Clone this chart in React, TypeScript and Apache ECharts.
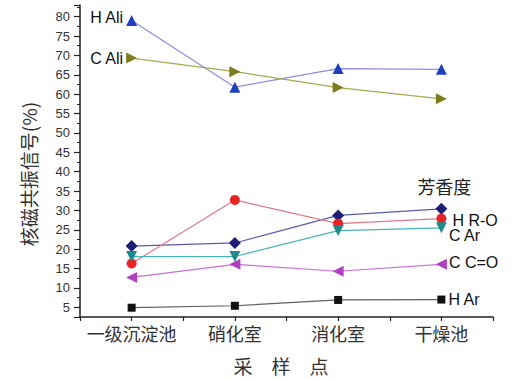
import React, { useEffect, useRef } from "react";
import * as echarts from "echarts";

const categories = ["一级沉淀池", "硝化室", "消化室", "干燥池"];
const hAli = [79, 61.8, 66.6, 66.4];
const cAli = [69.3, 65.8, 61.7, 58.8];
const aromaticity = [20.8, 21.6, 28.7, 30.4];
const hRO = [16.3, 32.7, 26.6, 27.9];
const cAr = [18.1, 18.1, 24.8, 25.5];
const cCO = [12.7, 16.1, 14.3, 16.1];
const hAr = [4.9, 5.4, 6.9, 7.0];

const seriesNames = ["H Ali", "C Ali", "芳香度", "H R-O", "C Ar", "C C=O", "H Ar"];
const yTitle = "核磁共振信号(%)";
const xTitle = "采　样　点";

const labelFont = { fontFamily: "Liberation Sans, Arial, sans-serif", fontSize: 16, color: "#111" };

function withLabel(values: number[], idx: number, label: any) {
  return values.map((v, i) =>
    i === idx ? { value: v, label: { show: true, ...labelFont, ...label } } : v
  );
}

export default function App() {
  const ref = useRef<HTMLDivElement>(null);
  useEffect(() => {
    if (!ref.current) return;
    const chart = echarts.init(ref.current, undefined, { renderer: "svg" });
    const mk = (name: string, data: any[], lineColor: string, markColor: string, symbol: string, size: number, rotate = 0) => ({
      name,
      type: "line",
      data,
      symbol,
      symbolSize: size,
      symbolRotate: rotate,
      lineStyle: { color: lineColor, width: 1.2 },
      itemStyle: { color: markColor },
      label: { show: false },
    });
    chart.setOption({
      animation: false,
      backgroundColor: "#fff",
      grid: { left: 80, right: 19, top: 5, bottom: 62 },
      xAxis: [
        {
          type: "category",
          data: categories,
          boundaryGap: true,
          axisLine: { lineStyle: { color: "#222", width: 1.5 } },
          axisTick: { show: true, interval: 0, length: 4, lineStyle: { color: "#222", width: 1.2 } },
          axisLabel: {
            interval: 0,
            hideOverlap: false,
            fontFamily: "Noto Sans CJK SC",
            fontSize: 18,
            color: "#333",
            margin: 7,
          },
        },
        {
          type: "category",
          data: categories,
          position: "bottom",
          boundaryGap: true,
          axisLine: { show: false },
          axisTick: { show: true, interval: 0, alignWithLabel: true, length: 4, lineStyle: { color: "#222", width: 1.2 } },
          axisLabel: { show: false },
        },
      ],
      yAxis: {
        type: "value",
        min: 2.5,
        max: 83,
        splitNumber: 16,
        splitLine: { show: false },
        axisLine: { show: true, lineStyle: { color: "#222", width: 1.5 } },
        axisTick: { show: true, length: 6, lineStyle: { color: "#222", width: 1.2 } },
        minorTick: { show: true, splitNumber: 2, length: 3, lineStyle: { color: "#222", width: 1 } },
        axisLabel: {
          fontFamily: "Liberation Sans, Arial, sans-serif",
          fontSize: 13,
          color: "#333",
          margin: 10,
          formatter: (v: number) => (v % 5 === 0 && v >= 5 && v <= 80 ? String(v) : ""),
        },
      },
      graphic: [
        {
          type: "text",
          x: 28,
          y: 174,
          rotation: Math.PI / 2,
          style: {
            text: yTitle,
            fontFamily: "Noto Sans CJK SC",
            fontSize: 19,
            fill: "#333",
            align: "center",
            verticalAlign: "middle",
          },
        },
        {
          type: "text",
          x: 281,
          y: 365,
          style: {
            text: xTitle,
            fontFamily: "Noto Sans CJK SC",
            fontSize: 19,
            fill: "#333",
            align: "center",
            verticalAlign: "middle",
          },
        },
      ],
      series: [
        mk(seriesNames[0], withLabel(hAli, 0, { formatter: seriesNames[0], position: "left", distance: 3, offset: [0, -3] }), "#8c8ce0", "#1f3fbf", "triangle", 11),
        mk(seriesNames[1], withLabel(cAli, 0, { formatter: seriesNames[1], position: "left", distance: 3 }), "#a8a850", "#7d7d1e", "triangle", 11, -90),
        mk(seriesNames[2], withLabel(aromaticity, 3, { formatter: seriesNames[2], position: "top", distance: 8, offset: [3, 0], fontFamily: "Noto Sans CJK SC", fontSize: 18, color: "#222" }), "#5a5aa8", "#1e1e78", "diamond", 12),
        mk(seriesNames[3], withLabel(hRO, 3, { formatter: seriesNames[3], position: "right", distance: 6, offset: [0, 2] }), "#e07888", "#e82323", "circle", 10),
        mk(seriesNames[4], withLabel(cAr, 3, { formatter: seriesNames[4], position: "right", distance: 2, offset: [0, 8] }), "#48b4b4", "#1e8a8a", "triangle", 11, 180),
        mk(seriesNames[5], withLabel(cCO, 3, { formatter: seriesNames[5], position: "right", distance: 2, offset: [0, -2] }), "#c870d8", "#b040c0", "triangle", 11, 90),
        mk(seriesNames[6], withLabel(hAr, 3, { formatter: seriesNames[6], position: "right", distance: 3 }), "#606060", "#111", "rect", 8),
      ],
    });
    return () => chart.dispose();
  }, []);
  return <div ref={ref} style={{ width: 512, height: 379, position: "absolute", left: 0, top: 0 }} />;
}
